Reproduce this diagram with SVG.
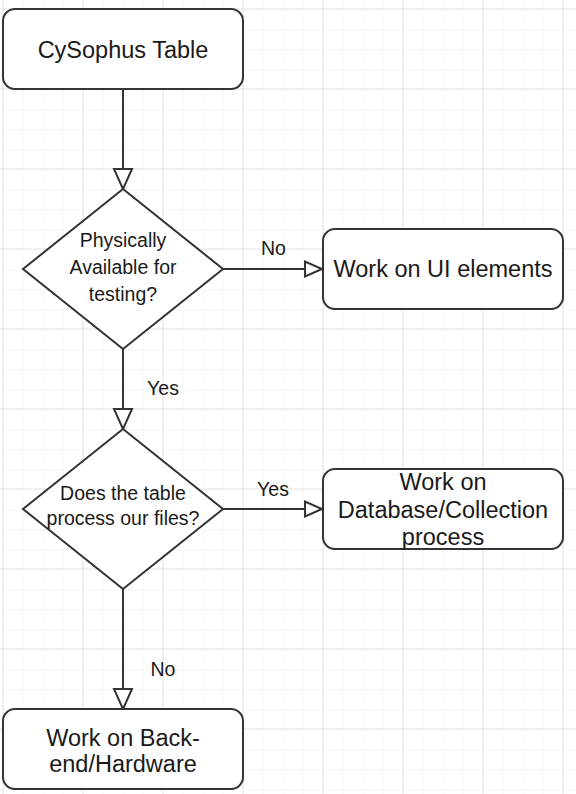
<svg xmlns="http://www.w3.org/2000/svg" width="576" height="794" viewBox="0 0 576 794">
<defs>
<pattern id="minor" x="3" y="9" width="20" height="20" patternUnits="userSpaceOnUse">
<path d="M0 0H20M0 0V20" fill="none" stroke="#f2f2f2" stroke-width="1"/>
</pattern>
<pattern id="major" x="2.5" y="8.5" width="80" height="80" patternUnits="userSpaceOnUse">
<path d="M0 0.5H80M0.5 0V80" fill="none" stroke="#e3e3e3" stroke-width="1"/>
</pattern>
</defs>
<style>
.shape{fill:#ffffff;stroke:#333333;stroke-width:2}
.edge{fill:none;stroke:#333333;stroke-width:2}
.head{fill:#ffffff;stroke:#333333;stroke-width:2;stroke-linejoin:miter}
.t{font-family:"Liberation Sans",Arial,sans-serif;fill:#1a1a1a;text-anchor:middle}
.big{font-size:23.5px}
.small{font-size:19.5px}
</style>
<rect x="0" y="0" width="576" height="794" fill="#ffffff"/>
<rect x="0" y="0" width="576" height="794" fill="url(#minor)"/>
<rect x="0" y="0" width="576" height="794" fill="url(#major)"/>

<g id="connectors">
<line class="edge" x1="123" y1="89" x2="123" y2="169"/>
<polygon class="head" points="114,169 132,169 123,189"/>
<line class="edge" x1="223" y1="269" x2="305" y2="269"/>
<polygon class="head" points="305,261.5 305,276.5 322,269"/>
<text class="t small" x="273.5" y="255">No</text>
<line class="edge" x1="123" y1="349" x2="123" y2="409"/>
<polygon class="head" points="114,409 132,409 123,429"/>
<text class="t small" x="163" y="395">Yes</text>
<line class="edge" x1="223" y1="509" x2="305" y2="509"/>
<polygon class="head" points="305,501.5 305,516.5 322,509"/>
<text class="t small" x="273" y="496">Yes</text>
<line class="edge" x1="123" y1="589" x2="123" y2="689"/>
<polygon class="head" points="114,689 132,689 123,709"/>
<text class="t small" x="163" y="676">No</text>
</g>

<g id="start">
<rect class="shape" x="3" y="9" width="240" height="80" rx="12" ry="12"/>
<text class="t big" x="123" y="58">CySophus Table</text>
</g>

<g id="decision1">
<polygon class="shape" points="123,189 223,269 123,349 23,269"/>
<text class="t small" x="123" y="246.5">Physically</text>
<text class="t small" x="123" y="273.5">Available for</text>
<text class="t small" x="123" y="301">testing?</text>
</g>

<g id="ui">
<rect class="shape" x="323" y="229" width="240" height="80" rx="12" ry="12"/>
<text class="t big" x="443" y="277">Work on UI elements</text>
</g>

<g id="decision2">
<polygon class="shape" points="123,429 223,509 123,589 23,509"/>
<text class="t small" x="123" y="500">Does the table</text>
<text class="t small" x="123" y="525">process our files?</text>
</g>

<g id="database">
<rect class="shape" x="323" y="469" width="240" height="80" rx="12" ry="12"/>
<text class="t big" x="443" y="490">Work on</text>
<text class="t big" x="443" y="517.5">Database/Collection</text>
<text class="t big" x="443" y="545">process</text>
</g>

<g id="backend">
<rect class="shape" x="3" y="709" width="240" height="80" rx="12" ry="12"/>
<text class="t big" x="123" y="746">Work on Back-</text>
<text class="t big" x="123" y="772">end/Hardware</text>
</g>
</svg>
